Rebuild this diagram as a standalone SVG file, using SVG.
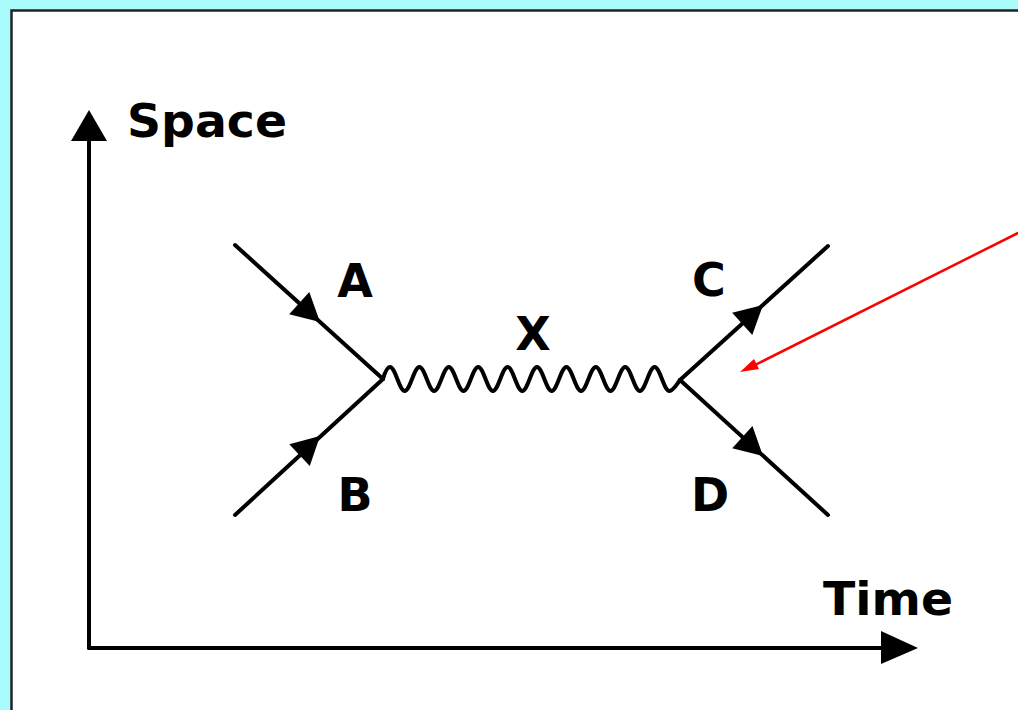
<svg xmlns="http://www.w3.org/2000/svg" width="1018" height="710" viewBox="0 0 1018 710">
<style>
.ln{fill:none;stroke:#000;stroke-width:4;stroke-linecap:round;stroke-linejoin:round}
.lbl{font-family:"DejaVu Sans","Liberation Sans",sans-serif;font-weight:bold;font-size:46px;fill:#000}
.head{fill:#000}
</style>
<defs>
<polygon id="tri" points="0,0 -28,-15 -28,15"/>
</defs>
<rect x="0" y="0" width="1018" height="710" fill="#aafcfc"/>
<rect x="11.5" y="10.5" width="1020" height="720" fill="#fff" stroke="#222" stroke-width="2.5"/>
<g id="axes">
<line class="ln" x1="89" y1="130" x2="89" y2="648"/>
<line class="ln" x1="89" y1="648" x2="895" y2="648"/>
<polygon class="head" points="89,110 71,141 107,141"/>
<polygon class="head" points="918,648 881,631 881,664"/>
<text class="lbl" x="127" y="137" textLength="160" lengthAdjust="spacingAndGlyphs">Space</text>
<text class="lbl" x="823" y="615" textLength="130" lengthAdjust="spacingAndGlyphs">Time</text>
</g>
<g id="connectors">
<line class="ln" x1="235" y1="245" x2="383" y2="379"/>
<line class="ln" x1="235" y1="515" x2="383" y2="379"/>
<line class="ln" x1="680" y1="380" x2="828" y2="246"/>
<line class="ln" x1="680" y1="380" x2="828" y2="515"/>
<use href="#tri" class="head" transform="translate(320,322) rotate(42.1)"/>
<use href="#tri" class="head" transform="translate(320,436) rotate(-43)"/>
<use href="#tri" class="head" transform="translate(763,305) rotate(-42.1)"/>
<use href="#tri" class="head" transform="translate(763,456) rotate(42.4)"/>
<path id="boson-X" class="ln" d="M383,379 C385,372 387,367 390,367 C395.3,367 399.4,391 404.7,391 C410,391 414.1,367 419.4,367 C424.7,367 428.8,391 434.1,391 C439.4,391 443.5,367 448.8,367 C454.1,367 458.2,391 463.5,391 C468.8,391 472.9,367 478.2,367 C483.5,367 487.6,391 492.9,391 C498.2,391 502.3,367 507.6,367 C512.9,367 517,391 522.3,391 C527.6,391 531.7,367 537,367 C542.3,367 546.4,391 551.7,391 C557,391 561.1,367 566.4,367 C571.7,367 575.8,391 581.1,391 C586.4,391 590.5,367 595.8,367 C601.1,367 605.2,391 610.5,391 C615.8,391 619.9,367 625.2,367 C630.5,367 634.6,391 639.9,391 C645.2,391 649.3,367 654.6,367 C659.9,367 664,391 669.3,391 C673,391 677,384 680,380"/>
<line x1="1020" y1="232" x2="755" y2="365" stroke="#ff0000" stroke-width="2.5"/>
<polygon fill="#ff0000" points="740,372 754,359 759,369"/>
</g>
<g id="A"><text class="lbl" x="355" y="297" text-anchor="middle">A</text></g>
<g id="B"><text class="lbl" x="355" y="511" text-anchor="middle">B</text></g>
<g id="C"><text class="lbl" x="709" y="296" text-anchor="middle">C</text></g>
<g id="D"><text class="lbl" x="710" y="511" text-anchor="middle">D</text></g>
<g id="X"><text class="lbl" x="533" y="350" text-anchor="middle">X</text></g>
</svg>
